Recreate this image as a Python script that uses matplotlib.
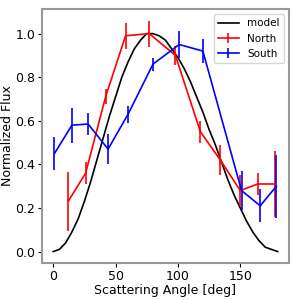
import numpy as np
import matplotlib
matplotlib.use("Agg")
import matplotlib.pyplot as plt

# model curve, every 5 deg
model_angle = list(range(0, 181, 5))
model_flux = [0.00, 0.01, 0.04, 0.09, 0.15, 0.23, 0.32, 0.42, 0.52, 0.62,
              0.71, 0.80, 0.87, 0.93, 0.97, 1.00, 1.00, 0.99, 0.97, 0.93,
              0.89, 0.84, 0.78, 0.71, 0.64, 0.56, 0.49, 0.41, 0.33, 0.26,
              0.20, 0.14, 0.09, 0.05, 0.02, 0.01, 0.00]

north_angle = [12, 26, 42, 58, 77, 98, 118, 134, 150, 164, 178]
north_flux = [0.23, 0.36, 0.71, 0.99, 1.00, 0.90, 0.55, 0.42, 0.28, 0.31, 0.31]
north_err = [0.135, 0.05, 0.035, 0.06, 0.06, 0.045, 0.05, 0.07, 0.07, 0.05, 0.15]

south_angle = [1, 15, 28, 44, 60, 80, 101, 120, 151, 166, 179]
south_flux = [0.45, 0.58, 0.585, 0.47, 0.63, 0.86, 0.95, 0.92, 0.28, 0.21, 0.30]
south_err = [0.075, 0.08, 0.05, 0.07, 0.04, 0.03, 0.06, 0.055, 0.09, 0.075, 0.145]

fig = plt.figure(figsize=(3, 3), dpi=100)
ax = fig.add_axes([0.14, 0.123, 0.823, 0.847])

ax.plot(model_angle, model_flux, color="black", lw=1.2, label="model")
ax.errorbar(north_angle, north_flux, yerr=north_err, color="red", lw=1.2,
            label="North")
ax.errorbar(south_angle, south_flux, yerr=south_err, color="blue", lw=1.2,
            label="South")

ax.set_xlabel("Scattering Angle [deg]", fontsize=9, labelpad=1)
ax.set_ylabel("Normalized Flux", fontsize=9, labelpad=1)
ax.tick_params(labelsize=9, length=3, pad=2)
for s in ax.spines.values():
    s.set_color("#999999")
    s.set_linewidth(1.5)
ax.legend(loc="upper right", fontsize=7.5)

fig.savefig("out.png")
